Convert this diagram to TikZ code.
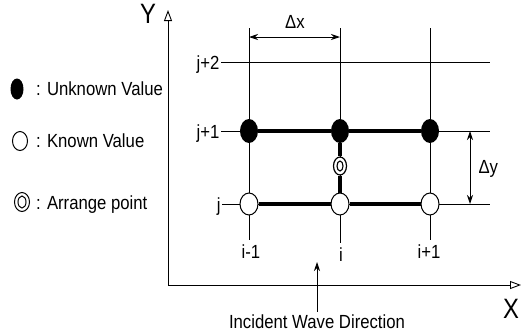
\documentclass[tikz,border=0pt]{standalone}
\usepackage{fontspec}
\setmainfont{Liberation Sans}
\usetikzlibrary{arrows.meta,shapes.geometric}
\begin{document}
\begin{tikzpicture}[x=1pt,y=-1pt,
 lbl/.style={font=\fontsize{19}{21}\selectfont, xscale=0.88, inner sep=1.5pt},
 big/.style={font=\fontsize{28}{30}\selectfont, xscale=0.85, inner sep=0pt},
 thin/.style={line width=0.9pt},
 thk/.style={line width=4pt},
 unk/.style={ellipse, fill=black, minimum width=18pt, minimum height=24pt, inner sep=0pt},
 knw/.style={ellipse, draw, line width=1pt, fill=white, minimum width=18pt, minimum height=22pt, inner sep=0pt},
 arrout/.style={ellipse, draw, line width=1.2pt, fill=white, minimum width=13pt, minimum height=18pt, inner sep=0pt},
 arrin/.style={ellipse, draw, line width=1.1pt, minimum width=6pt, minimum height=10pt, inner sep=0pt},
 dim/.style={line width=0.9pt, {Stealth[length=9pt,width=6pt]}-{Stealth[length=9pt,width=6pt]}},
 axis/.style={line width=0.9pt, -{Triangle[open,length=11pt,width=8pt]}}]
\useasboundingbox (0,0) rectangle (530,333);

% axes
\coordinate (O) at (168,285);
\coordinate (Ytip) at (168,10);
\coordinate (Xtip) at (521,285);
\draw[axis] (O) -- (Ytip);
\draw[axis] (O) -- (Xtip);
\node[big] (Ylab) at (148,14) {Y};
\node[big] (Xlab) at (511,309) {X};

% row labels and horizontal grid lines
\node[lbl, anchor=base east] (lj2) at (221,69) {j+2};
\node[lbl, anchor=base east] (lj1) at (221,138) {j+1};
\node[lbl, anchor=base east] (lj0) at (222,211) {j};
\coordinate (rj2) at (490,62);
\coordinate (rj1) at (490,131);
\coordinate (rj0) at (490,204);
\draw[thin] (lj2.east |- rj2) -- (rj2);
\draw[thin] (lj1.east |- rj1) -- (rj1);
\draw[thin] (lj0.east |- rj0) -- (rj0);

% column labels and vertical grid lines
\node[lbl, anchor=base, inner sep=4pt] (li1) at (251,258) {i-1};
\node[lbl, anchor=base, inner sep=4pt] (li2) at (341,261) {i};
\node[lbl, anchor=base, inner sep=4pt] (li3) at (429,258) {i+1};
\coordinate (ti1) at (249,28);
\coordinate (ti2) at (340,28);
\coordinate (ti3) at (430,28);
\draw[thin] (ti1) -- (li1.north -| ti1);
\draw[thin] (ti2) -- (li2.north -| ti2);
\draw[thin] (ti3) -- (li3.north -| ti3);

% grid points
\node[unk] (u1) at (249,131) {};
\node[unk] (u2) at (340,131) {};
\node[unk] (u3) at (430,131) {};
\node[knw] (k1) at (249,204) {};
\node[knw] (k2) at (340,204) {};
\node[knw] (k3) at (430,204) {};
\node[arrout] (ap) at (340,166) {};
\node[arrin] (apin) at (340,166) {};
\draw[thk] (u1) -- (u2) -- (u3);
\draw[thk] (k1) -- (k2) -- (k3);
\draw[thk] (u2) -- (ap);
\draw[thk] (ap) -- (k2);

% dimensions
\coordinate (dx1) at (249,37);
\coordinate (dx2) at (340,37);
\draw[dim] (dx1) -- (dx2);
\node[lbl] (dxl) at (295,22) {Δx};
\coordinate (dy1) at (470,131);
\coordinate (dy2) at (470,204);
\draw[dim] (dy1) -- (dy2);
\node[lbl, anchor=west] (dyl) at (477,169) {Δy};

% incident wave
\node[lbl, inner sep=3pt] (inc) at (317,322) {Incident Wave Direction};
\coordinate (inctip) at (317,262);
\draw[line width=0.9pt, -{Stealth[length=9pt,width=6pt]}] (inc.north -| inctip) -- (inctip);

% legend
\node[unk, minimum width=13pt, minimum height=21pt] (lg1) at (17,89) {};
\node[lbl, anchor=base west, inner sep=0pt] (lt1) at (36,95) {: Unknown Value};
\node[knw, minimum width=15pt, minimum height=19pt] (lg2) at (20,141) {};
\node[lbl, anchor=base west, inner sep=0pt] (lt2) at (36,147) {: Known Value};
\node[arrout, minimum width=15pt, minimum height=19pt, line width=1pt] (lg3) at (22,202) {};
\node[arrin, minimum width=8pt, minimum height=12pt, line width=1pt] (lg3in) at (22,202) {};
\node[lbl, anchor=base west, inner sep=0pt] (lt3) at (36,209) {: Arrange point};
\end{tikzpicture}
\end{document}
